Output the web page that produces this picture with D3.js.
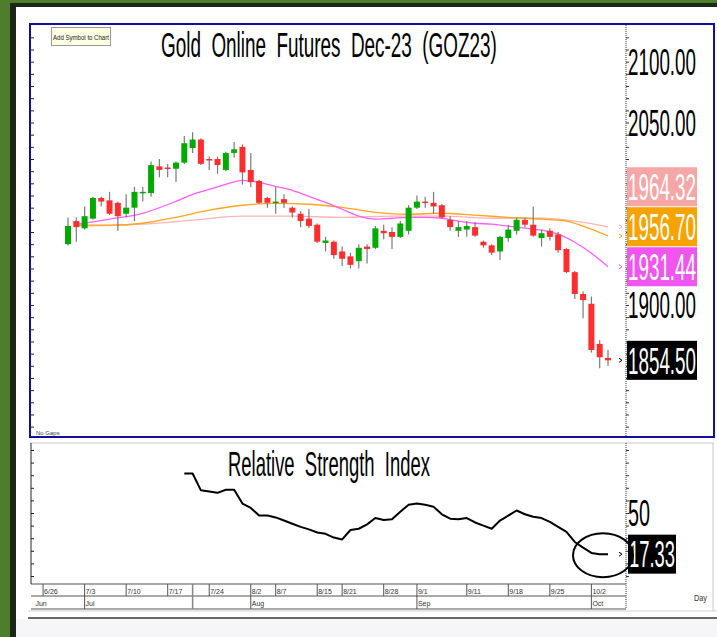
<!DOCTYPE html>
<html><head><meta charset="utf-8">
<script src="https://cdn.jsdelivr.net/npm/d3@7"></script>
<style>html,body{margin:0;padding:0;overflow:hidden;background:#fff}</style>
</head><body>
<script>
// ---- data ----
const opens  = [1950,1969,1963,1971,1988,1986,1984,1975,1980,1992,1992,2014,2013,2012,2017,2029,2036,2020,2020,2011,2025,2030,2011,2002,1988,1984,1987,1980,1975,1971,1966,1951,1952,1944,1940,1936,1948,1947,1961,1960,1956,1961,1980,1985,1984,1982,1970,1961,1962,1964,1952,1949,1944,1955,1961,1970,1966,1955,1961,1958,1946,1927,1909,1901,1868,1856.5];
const highs  = [1972,1972,1981,1989,1989,1993,1985,1991,1997,1997,2018,2020,2016,2018,2039,2042,2037,2022,2022,2026,2034,2032,2025,2003,1989,1997,1991,1981,1977,1979,1967,1956,1953,1948,1943,1950,1950,1965,1966,1964,1969,1982,1990,1989,1993,1983,1973,1969,1969,1968,1953,1950,1957,1966,1972,1972,1981,1962,1963,1960,1947,1928,1911,1907,1871,1863];
const lows   = [1949,1952,1962,1970,1981,1974,1961,1972,1969,1985,1989,2005,2005,2001,2016,2025,2015,2011,2008,2010,2021,1999,1997,1983,1980,1975,1980,1972,1964,1963,1951,1944,1938,1932,1930,1930,1934,1946,1954,1946,1955,1958,1979,1980,1975,1971,1961,1956,1956,1956,1947,1941,1937,1952,1958,1964,1956,1948,1953,1943,1926,1905,1889,1861,1848,1850];
const closes = [1965,1964,1973,1988,1985,1975,1973,1980,1993,1993,2015,2011,2012,2017,2033,2036,2016,2019,2015,2025,2028,2009,2001,1984,1984,1985,1984,1976,1969,1965,1952,1953,1941,1938,1933,1947,1946,1963,1959,1956,1967,1980,1985,1984,1981,1972,1964,1964,1965,1957,1949,1943,1956,1962,1970,1966,1957,1959,1956,1945,1927,1909,1904,1863,1857,1854.5];

// moving averages (sampled at candle index)
const maFastIdx  = [1,2,5,9,13,15,17,19,21,23,25,27,29,31,33,35,37,39,41,43,45,47,49,51,53,55,57,59,61,63,65];
const maFastVal  = [1966.4,1967.2,1970.5,1975.4,1985.2,1991,1995,1999.2,2002.5,2000.8,1997.5,1994.3,1989.3,1984.4,1978.7,1973,1970.5,1971.3,1972.1,1972.1,1971.3,1968.9,1967.2,1966.4,1964.8,1963.1,1961.5,1958.2,1951.6,1942.6,1931.44];
const maMidIdx   = [1,5,9,13,17,21,25,29,33,37,41,45,49,53,57,60,62,65];
const maMidVal   = [1965.6,1965.6,1967.2,1972.1,1977.9,1982,1983.6,1982.8,1980.3,1976.2,1974.6,1975.4,1973.8,1972.1,1970.5,1968.9,1964.8,1956.70];
const maSlowIdx  = [1,9,15,21,27,33,39,45,51,57,61,65];
const maSlowVal  = [1964.8,1966.4,1969.7,1973,1973,1972.1,1973,1973,1971.3,1971.3,1968.9,1964.32];

// RSI (14) from candle index 14
const rsiStart = 14;
const rsiVal = [81.3,81.3,68,67,66,68.5,68.5,57.5,54,48,48,46.5,44,41.5,39,37,34.5,33.5,30.5,29,36.5,37.5,41,46,44.5,45,51,56.5,57.5,56.5,55,49,45.5,45,46,42.5,40,37.5,44,48,52,49,47,46,43,39,35,27,22.5,18.3,17.33,17.33];

// axis labels
const priceLabels = [2100, 2050, 1900];
const rsiLabels = [50];
const dateLabels = ["6/26","7/3","7/10","7/17","7/24","8/2","8/7","8/15","8/21","8/28","9/1","9/11","9/18","9/25","10/2"];
const dateIdx    = [-3,2,7,12,17,22,25,30,33,38,42,48,53,58,63];
const monthLabels = ["Jun","Jul","Aug","Sep","Oct"];
const monthIdx    = [-4.4,2,22,42,63];
const sepIdx = 15;
const lastClose = 1854.50;
const lastRsi = 17.33;
const maLabels = [
  {v: 1931.44, bg: "#f055f0"},
  {v: 1956.70, bg: "#f5a300"},
  {v: 1964.32, bg: "#f5a6a6"}
];
const title = "Gold  Online  Futures  Dec-23  (GOZ23)";
const rsiTitle = "Relative  Strength  Index";

// ---- drawing ----
const W = 717, H = 637;
const svg = d3.select("body").append("svg").attr("width", W).attr("height", H)
  .style("display","block");
const FONT = "'Liberation Sans', Arial, sans-serif";

// condensed text: measure natural width, then scale horizontally to target width
function fitText(parent, str, x, y, size, width, fill) {
  const t = parent.append("text").attr("x", 0).attr("y", 0).attr("font-family", FONT)
    .attr("font-size", size).attr("fill", fill).style("white-space", "pre").text(str);
  const n = t.node().getComputedTextLength();
  t.attr("transform", `translate(${x},${y}) scale(${width / n},1)`);
  return t;
}

// frame
svg.append("rect").attr("width", W).attr("height", H).attr("fill", "#4e7e2c");
svg.append("rect").attr("x", 10).attr("y", 3).attr("width", W - 10).attr("height", H - 3).attr("fill", "#1c2616");
svg.append("rect").attr("x", 16).attr("y", 7).attr("width", W - 16).attr("height", H - 7).attr("fill", "#ffffff");
svg.append("rect").attr("x", 16).attr("y", 619).attr("width", W - 16).attr("height", H - 619).attr("fill", "#f6f6f8");
svg.append("line").attr("x1", 28).attr("x2", W).attr("y1", 618).attr("y2", 618).attr("stroke", "#666").attr("stroke-width", 2);
svg.append("line").attr("x1", 28).attr("x2", W).attr("y1", 611).attr("y2", 611).attr("stroke", "#d0d0d0").attr("stroke-width", 1);

// scales
const x = d3.scaleLinear().domain([0, 65]).range([68, 608]);
const yP = d3.scaleLinear().domain([1850, 2100]).range([365.8, 61.7]);
const yR = d3.scaleLinear().domain([0, 100]).range([576, 450]);

// ---- main panel ----
const mainTop = 24, mainBot = 437, left = 30, axisX = 626, right = 714;
svg.append("rect").attr("x", left).attr("y", mainTop).attr("width", right - left).attr("height", mainBot - mainTop)
  .attr("fill", "#fff").attr("stroke", "#1010a0").attr("stroke-width", 2);

const priceTicks = d3.range(1800, 2131, 10).filter(v => yP(v) > mainTop + 2 && yP(v) < mainBot - 2);
// left ticks
const gL = svg.append("g").attr("transform", `translate(${left+1},0)`);
gL.call(d3.axisRight(yP).tickValues(priceTicks).tickSize(3).tickFormat(""));
gL.select(".domain").remove();
gL.selectAll("line").attr("stroke", "#222");

// right axis
svg.append("line").attr("x1", axisX).attr("x2", axisX).attr("y1", mainTop + 1).attr("y2", mainBot)
  .attr("stroke", "#333").attr("stroke-dasharray", "1,1");
const gR = svg.append("g").attr("transform", `translate(${axisX},0)`);
gR.call(d3.axisRight(yP).tickValues(priceTicks).tickSize(3).tickFormat(""));
gR.select(".domain").remove();
gR.selectAll("line").attr("stroke", "#333");

// moving averages
function maLine(idx, vals, color) {
  const pts = idx.map((d, i) => [d, vals[i]]);
  svg.append("path").datum(pts)
    .attr("d", d3.line().x(d => x(d[0])).y(d => yP(d[1])).curve(d3.curveMonotoneX))
    .attr("fill", "none").attr("stroke", color).attr("stroke-width", 1.3);
}
maLine(maSlowIdx, maSlowVal, "#ffb4b4");
maLine(maMidIdx, maMidVal, "#ffa41c");
maLine(maFastIdx, maFastVal, "#ff5cff");

// candles
const candles = opens.map((o, i) => ({i, o, h: highs[i], l: lows[i], c: closes[i]}));
const cg = svg.append("g");
cg.selectAll("line.wick").data(candles).join("line").attr("class", "wick")
  .attr("x1", d => x(d.i)).attr("x2", d => x(d.i))
  .attr("y1", d => yP(d.h)).attr("y2", d => yP(d.l))
  .attr("stroke", "#7a7a7a").attr("stroke-width", 1.2);
cg.selectAll("rect.body").data(candles).join("rect").attr("class", "body")
  .attr("x", d => x(d.i) - 3).attr("width", 6)
  .attr("y", d => yP(Math.max(d.o, d.c)))
  .attr("height", d => Math.max(1.5, Math.abs(yP(d.o) - yP(d.c))))
  .attr("fill", d => d.c >= d.o ? "#00aa00" : "#ff2e2e");

// title
fitText(svg, title, 161, 57, 35, 336, "#000");

// Add Symbol to Chart button
svg.append("rect").attr("x", 51.5).attr("y", 27.5).attr("width", 59).attr("height", 18)
  .attr("fill", "#ffffe4").attr("stroke", "#999");
fitText(svg, "Add Symbol to Chart", 53, 40, 8, 56, "#222");

svg.append("text").attr("x", 36).attr("y", 435).attr("font-family", FONT).attr("font-size", 6)
  .attr("fill", "#444").text("No Gaps");

// price labels
priceLabels.forEach(v => fitText(svg, v.toFixed(2), 628, yP(v) + 13.3, 37, 68, "#000"));

// value boxes with collision avoidance (stack upward)
function valueBox(cy, v, bg, fg, w) {
  svg.append("rect").attr("x", 627).attr("y", cy - 19.5).attr("width", w).attr("height", 39).attr("fill", bg);
  fitText(svg, v, 628, cy + 13.3, 37, w - 2, fg);
}
function marker(yy, col) {
  svg.append("path").attr("d", `M619,${yy-2}L622,${yy}L619,${yy+2}`).attr("stroke", col).attr("fill", "none");
}
let prev = Infinity;
maLabels.slice().sort((a, b) => a.v - b.v).forEach(m => {
  const cy = Math.min(yP(m.v), prev - 40);
  prev = cy;
  valueBox(cy, m.v.toFixed(2), m.bg, "#fff", 70);
  marker(yP(m.v), m.bg);
});
valueBox(yP(lastClose), lastClose.toFixed(2), "#000", "#fff", 70);
marker(yP(lastClose), "#000");

// ---- RSI panel ----
const rTop = 443, rBot = 584, rowMid = 596, rowBot = 609;
svg.append("line").attr("x1", left).attr("x2", right).attr("y1", rTop).attr("y2", rTop).attr("stroke", "#c8c8c8");
svg.append("line").attr("x1", right - 1).attr("x2", right - 1).attr("y1", rTop).attr("y2", rowBot + 2).attr("stroke", "#c8c8c8");
svg.append("line").attr("x1", left + 1).attr("x2", left + 1).attr("y1", rTop).attr("y2", rBot).attr("stroke", "#222");
const rsiTicks = d3.range(0, 101, 10).filter(v => yR(v) > rTop + 3 && yR(v) < rBot - 3);
const gRL = svg.append("g").attr("transform", `translate(${left+1},0)`);
gRL.call(d3.axisRight(yR).tickValues(rsiTicks).tickSize(3).tickFormat(""));
gRL.select(".domain").remove();
gRL.selectAll("line").attr("stroke", "#222");

svg.append("line").attr("x1", axisX).attr("x2", axisX).attr("y1", rTop).attr("y2", rowBot)
  .attr("stroke", "#333").attr("stroke-dasharray", "1,1");
const gRR = svg.append("g").attr("transform", `translate(${axisX},0)`);
gRR.call(d3.axisRight(yR).tickValues(rsiTicks).tickSize(3).tickFormat(""));
gRR.select(".domain").remove();
gRR.selectAll("line").attr("stroke", "#333");

fitText(svg, rsiTitle, 228, 476, 35, 202, "#000");

const rsiPts = rsiVal.map((v, k) => [rsiStart + k, v]);
svg.append("path").datum(rsiPts)
  .attr("d", d3.line().x(d => x(d[0])).y(d => yR(d[1])))
  .attr("fill", "none").attr("stroke", "#000").attr("stroke-width", 2).attr("stroke-linejoin", "round");

rsiLabels.forEach(v => fitText(svg, String(v), 628, yR(v) + 13.3, 37, 22, "#000"));
svg.append("rect").attr("x", 628).attr("y", yR(lastRsi) - 19.5).attr("width", 48).attr("height", 39).attr("fill", "#000");
fitText(svg, lastRsi.toFixed(2), 629, yR(lastRsi) + 13.3, 37, 46, "#fff");
marker(yR(lastRsi), "#000");

// annotation ellipse
svg.append("ellipse").attr("cx", x(65) - 5).attr("cy", yR(lastRsi) + 1).attr("rx", 30).attr("ry", 22)
  .attr("fill", "none").attr("stroke", "#000").attr("stroke-width", 2);

// ---- date axis ----
const xl = x.invert(left + 1), xr = x.invert(axisX);
[rBot, rowMid, rowBot].forEach(yy => {
  svg.append("line").attr("x1", x(xl)).attr("x2", x(xr)).attr("y1", yy).attr("y2", yy).attr("stroke", "#555");
});
const dg = svg.append("g");
dateLabels.forEach((t, k) => {
  const xx = x(dateIdx[k]);
  dg.append("line").attr("x1", xx).attr("x2", xx).attr("y1", rBot).attr("y2", rowMid).attr("stroke", "#555");
  dg.append("text").attr("x", xx + 1).attr("y", 594).attr("font-family", FONT).attr("font-size", 7)
    .attr("fill", "#333").text(t);
});
monthLabels.forEach((t, k) => {
  const xx = x(monthIdx[k]);
  if (k > 0) dg.append("line").attr("x1", xx).attr("x2", xx).attr("y1", rowMid).attr("y2", rowBot).attr("stroke", "#555");
  dg.append("text").attr("x", xx + (k > 0 ? 1 : 4)).attr("y", 606).attr("font-family", FONT).attr("font-size", 7)
    .attr("fill", "#333").text(t);
});
dg.append("line").attr("x1", x(sepIdx)).attr("x2", x(sepIdx)).attr("y1", rBot).attr("y2", rowBot).attr("stroke", "#888").attr("stroke-width", 1.5);

fitText(svg, "Day", 694, 601, 9, 13, "#333");
</script>
</body></html>
